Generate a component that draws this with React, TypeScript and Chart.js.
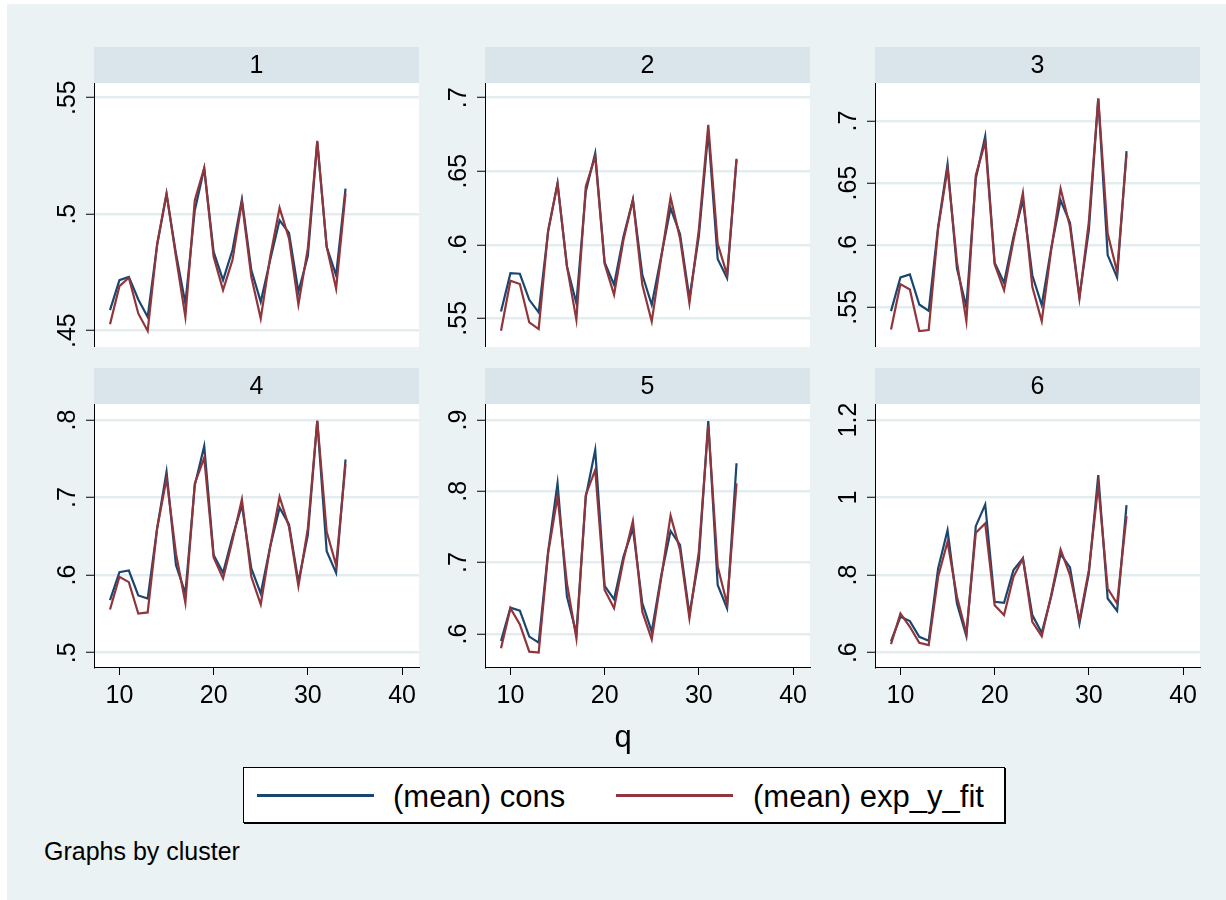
import React, { useEffect, useRef } from "react";
import { Chart, registerables } from "chart.js";

Chart.register(...registerables);

// ---------------- data ----------------
const quarters = [9, 10, 11, 12, 13, 14, 15, 16, 17, 18, 19, 20, 21, 22, 23, 24, 25, 26, 27, 28, 29, 30, 31, 32, 33, 34];

const panelLabels = ["1", "2", "3", "4", "5", "6"];

const cons1 = [0.4588, 0.4717, 0.4731, 0.4634, 0.4559, 0.4867, 0.5086, 0.4831, 0.4617, 0.5017, 0.5196, 0.4838, 0.4717, 0.4846, 0.5063, 0.476, 0.4624, 0.4803, 0.4974, 0.492, 0.4667, 0.482, 0.531, 0.486, 0.4738, 0.511];
const fit1 = [0.4528, 0.4691, 0.4727, 0.4574, 0.4499, 0.4871, 0.5089, 0.4817, 0.4559, 0.506, 0.5199, 0.4817, 0.4674, 0.4803, 0.5053, 0.4731, 0.4552, 0.4817, 0.5027, 0.4896, 0.4612, 0.4853, 0.5315, 0.486, 0.4681, 0.5089];

const cons2 = [0.5547, 0.5807, 0.5803, 0.5626, 0.554, 0.609, 0.6419, 0.5853, 0.5603, 0.6363, 0.6623, 0.588, 0.5728, 0.6057, 0.6306, 0.5796, 0.5592, 0.5921, 0.6249, 0.6073, 0.5637, 0.6057, 0.677, 0.5903, 0.5773, 0.6578];
const fit2 = [0.5415, 0.5755, 0.5733, 0.5472, 0.5427, 0.6097, 0.6415, 0.5853, 0.549, 0.6397, 0.66, 0.5871, 0.566, 0.6034, 0.6306, 0.5728, 0.5479, 0.5909, 0.6322, 0.6045, 0.5603, 0.6102, 0.6816, 0.6007, 0.5796, 0.6585];

const cons3 = [0.5469, 0.574, 0.5764, 0.5522, 0.5471, 0.6148, 0.6652, 0.5812, 0.5503, 0.6537, 0.6878, 0.5858, 0.5697, 0.6067, 0.6362, 0.5758, 0.5517, 0.5973, 0.6362, 0.618, 0.5584, 0.6121, 0.7181, 0.592, 0.574, 0.6757];
const fit3 = [0.5321, 0.5686, 0.5643, 0.5308, 0.5316, 0.6134, 0.6617, 0.5866, 0.5388, 0.6564, 0.6832, 0.5847, 0.5638, 0.604, 0.6421, 0.5664, 0.5388, 0.596, 0.6456, 0.6148, 0.5571, 0.6188, 0.7181, 0.6094, 0.5785, 0.673];

const cons4 = [0.5678, 0.6039, 0.606, 0.5738, 0.5699, 0.6602, 0.7332, 0.6129, 0.5764, 0.716, 0.7663, 0.6258, 0.603, 0.6494, 0.6903, 0.6086, 0.5764, 0.6365, 0.6868, 0.6653, 0.5914, 0.6516, 0.799, 0.6309, 0.603, 0.7491];
const fit4 = [0.5557, 0.5979, 0.591, 0.5506, 0.5519, 0.6602, 0.7246, 0.6279, 0.5643, 0.7182, 0.7513, 0.6228, 0.5957, 0.6451, 0.6976, 0.5979, 0.5622, 0.6365, 0.701, 0.6623, 0.5858, 0.6602, 0.799, 0.6559, 0.6129, 0.7427];

const cons5 = [0.5902, 0.6369, 0.6327, 0.5963, 0.5878, 0.7154, 0.8112, 0.6523, 0.6009, 0.7925, 0.858, 0.6673, 0.6486, 0.7084, 0.7481, 0.643, 0.6033, 0.6813, 0.7444, 0.7248, 0.6276, 0.7047, 0.8986, 0.6687, 0.636, 0.8393];
const fit5 = [0.5799, 0.636, 0.6135, 0.5752, 0.5738, 0.7131, 0.7925, 0.671, 0.5939, 0.7949, 0.8299, 0.6617, 0.636, 0.7037, 0.7584, 0.6313, 0.5925, 0.678, 0.7659, 0.7178, 0.622, 0.7154, 0.893, 0.6944, 0.6421, 0.8112];

const cons6 = [0.6298, 0.6926, 0.6814, 0.641, 0.6307, 0.8172, 0.916, 0.7269, 0.6427, 0.9263, 0.9822, 0.7312, 0.7287, 0.8129, 0.843, 0.6969, 0.6513, 0.7441, 0.8541, 0.8198, 0.6754, 0.8043, 1.0579, 0.7398, 0.708, 0.9805];
const fit6 = [0.6221, 0.7012, 0.6668, 0.6255, 0.6195, 0.7957, 0.886, 0.7441, 0.6496, 0.9092, 0.9332, 0.7226, 0.6969, 0.7957, 0.843, 0.6797, 0.6427, 0.7484, 0.8662, 0.8, 0.684, 0.8129, 1.0321, 0.7656, 0.7269, 0.9521];

const consSeries = [cons1, cons2, cons3, cons4, cons5, cons6];
const fitSeries = [fit1, fit2, fit3, fit4, fit5, fit6];

const yTicks1 = [0.45, 0.5, 0.55];
const yTicks2 = [0.55, 0.6, 0.65, 0.7];
const yTicks3 = [0.55, 0.6, 0.65, 0.7];
const yTicks4 = [0.5, 0.6, 0.7, 0.8];
const yTicks5 = [0.6, 0.7, 0.8, 0.9];
const yTicks6 = [0.6, 0.8, 1, 1.2];
const yTickSets = [yTicks1, yTicks2, yTicks3, yTicks4, yTicks5, yTicks6];

const yMins = [0.443, 0.5305, 0.518, 0.4816, 0.5537, 0.5631];
const yMaxs = [0.5563, 0.71, 0.7306, 0.8206, 0.9224, 1.2413];

const xTicks = [10, 20, 30, 40];
const xMin = 7.3;
const xMax = 41.8;

const seriesNames = ["(mean) cons", "(mean) exp_y_fit"];
const xTitle = "q";
const noteText = "Graphs by cluster";

// ---------------- style ----------------
const FONT = '"Liberation Sans", Arial, Helvetica, sans-serif';
const BLUE = "#1a476f";
const RED = "#90353b";
const BG = "#eaf2f3";
const STRIP = "#d9e5eb";
const GRID = "#e3edf0";

const colLefts = [94, 485, 875];
const plotW = 325;
const rowTops = [47, 368];
const stripH = 36;
const plotHs = [264, 263];
const yAxisW = 60;
const xAxisH = 48;
const padR = 14;

function fmt(v: number): string {
  const s = String(Math.round(v * 1000) / 1000);
  return s.startsWith("0.") ? s.slice(1) : s;
}

const stripPlugin = {
  id: "strip",
  beforeDraw(chart: any) {
    const { ctx, chartArea } = chart;
    const w = chartArea.right - chartArea.left;
    ctx.save();
    ctx.fillStyle = "#ffffff";
    ctx.fillRect(chartArea.left, chartArea.top, w, chartArea.bottom - chartArea.top);
    ctx.fillStyle = STRIP;
    ctx.fillRect(chartArea.left, 0, w, stripH);
    ctx.fillStyle = "#000";
    ctx.font = `25px ${FONT}`;
    ctx.textAlign = "center";
    ctx.textBaseline = "middle";
    ctx.fillText(chart.options.plugins.strip.label, chartArea.left + w / 2, stripH / 2 + 1);
    ctx.restore();
  },
};

const yLabelPlugin = {
  id: "ylabels",
  afterDraw(chart: any) {
    const { ctx, chartArea } = chart;
    const ys = chart.scales.y;
    ctx.save();
    ctx.fillStyle = "#000";
    ctx.font = `25px ${FONT}`;
    ctx.textAlign = "center";
    ctx.textBaseline = "alphabetic";
    ys.ticks.forEach((t: any) => {
      const y = ys.getPixelForValue(t.value);
      ctx.save();
      ctx.translate(chartArea.left - 19.5, y);
      ctx.rotate(-Math.PI / 2);
      ctx.fillText(fmt(t.value), 0, 0);
      ctx.restore();
    });
    ctx.restore();
  },
};

function geometry(i: number) {
  const row = i < 3 ? 0 : 1;
  const col = i % 3;
  const left = colLefts[col] - yAxisW;
  const top = rowTops[row];
  const width = yAxisW + plotW + padR;
  const height = stripH + plotHs[row] + (row === 1 ? xAxisH : 0);
  return { row, col, left, top, width, height };
}

function Panel({ i }: { i: number }) {
  const ref = useRef<HTMLCanvasElement>(null);
  const g = geometry(i);
  useEffect(() => {
    if (!ref.current) return;
    const isBottom = g.row === 1;
    const chart = new Chart(ref.current, {
      type: "line",
      data: {
        datasets: [
          {
            label: seriesNames[1],
            data: quarters.map((x, k) => ({ x, y: fitSeries[i][k] })),
            borderColor: RED,
            backgroundColor: RED,
            borderWidth: 2.2,
            pointRadius: 0,
            tension: 0,
            order: 0,
          },
          {
            label: seriesNames[0],
            data: quarters.map((x, k) => ({ x, y: consSeries[i][k] })),
            borderColor: BLUE,
            backgroundColor: BLUE,
            borderWidth: 2.2,
            pointRadius: 0,
            tension: 0,
            order: 1,
          },
        ],
      },
      options: {
        animation: false,
        responsive: false,
        devicePixelRatio: 1,
        layout: { padding: { top: stripH, right: padR, left: 0, bottom: 0 } },
        plugins: {
          legend: { display: false },
          tooltip: { enabled: false },
          // @ts-ignore
          strip: { label: panelLabels[i] },
        },
        scales: {
          x: {
            type: "linear",
            min: xMin,
            max: xMax,
            display: isBottom,
            afterBuildTicks: (s: any) => {
              s.ticks = xTicks.map((v) => ({ value: v }));
            },
            afterFit: (s: any) => {
              s.height = isBottom ? xAxisH : 0;
            },
            ticks: {
              font: { family: FONT, size: 25 },
              color: "#000",
              padding: 6,
              maxRotation: 0,
              minRotation: 0,
              autoSkip: false,
              callback: (v: any) => String(v),
            },
            grid: {
              drawOnChartArea: false,
              color: "#000",
              lineWidth: 1,
              tickLength: 8,
              tickWidth: 1,
              tickColor: "#000",
            },
            border: { display: true, color: "#000", width: 1 },
          },
          y: {
            type: "linear",
            min: yMins[i],
            max: yMaxs[i],
            afterBuildTicks: (s: any) => {
              s.ticks = yTickSets[i].map((v) => ({ value: v }));
            },
            afterFit: (s: any) => {
              s.width = yAxisW;
            },
            ticks: { display: false },
            grid: {
              color: GRID,
              lineWidth: 2.5,
              tickLength: 8,
              tickWidth: 1,
              tickColor: "#000",
              drawTicks: true,
            },
            border: { display: true, color: "#000", width: 1 },
          },
        },
      },
      plugins: [stripPlugin, yLabelPlugin],
    } as any);
    return () => chart.destroy();
  }, []);
  return (
    <canvas
      ref={ref}
      width={g.width}
      height={g.height}
      style={{ position: "absolute", left: g.left, top: g.top, width: g.width, height: g.height }}
    />
  );
}

export default function App() {
  useEffect(() => {
    document.documentElement.style.overflow = "hidden";
    document.body.style.overflow = "hidden";
  }, []);
  const textBase: React.CSSProperties = {
    position: "absolute",
    fontFamily: FONT,
    color: "#000",
    lineHeight: 1,
    whiteSpace: "nowrap",
  };
  return (
    <div>
      <div style={{ position: "absolute", left: 7, top: 4, width: 1219, height: 896, background: BG }} />
      {[0, 1, 2, 3, 4, 5].map((i) => (
        <Panel key={i} i={i} />
      ))}
      <div style={{ ...textBase, left: 523, width: 200, top: 721, fontSize: 31, textAlign: "center" }}>{xTitle}</div>
      <div
        style={{
          position: "absolute",
          left: 243,
          top: 767,
          width: 762,
          height: 56,
          boxSizing: "border-box",
          border: "1px solid #000",
          boxShadow: "1px 1px 0 #000",
          background: "#fff",
        }}
      >
        <div style={{ position: "absolute", left: 13, top: 26, width: 117, height: 3, background: BLUE }} />
        <div style={{ ...textBase, left: 149, top: 13, fontSize: 31 }}>{seriesNames[0]}</div>
        <div style={{ position: "absolute", left: 372, top: 26, width: 117, height: 3, background: RED }} />
        <div style={{ ...textBase, left: 509, top: 13, fontSize: 31 }}>{seriesNames[1]}</div>
      </div>
      <div style={{ ...textBase, left: 44, top: 839, fontSize: 25 }}>{noteText}</div>
    </div>
  );
}
